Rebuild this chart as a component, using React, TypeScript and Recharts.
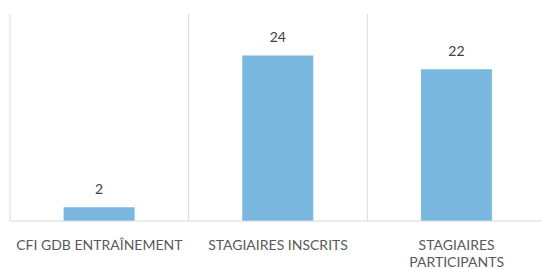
import React from 'react';
import { BarChart, Bar, XAxis, YAxis, CartesianGrid, LabelList } from 'recharts';

const categories = ['CFI GDB ENTRAÎNEMENT', 'STAGIAIRES INSCRITS', 'STAGIAIRES PARTICIPANTS'];
const tickLines = [['CFI GDB ENTRAÎNEMENT'], ['STAGIAIRES INSCRITS'], ['STAGIAIRES', 'PARTICIPANTS']];
const values = [2, 24, 22];

const data = categories.map((name, i) => ({ name, value: values[i] }));

const FONT = 'Lato, "Open Sans", sans-serif';

function CategoryTick({ x, y, index }: { x: number; y: number; index: number }) {
  const lines = tickLines[index] ?? [];
  return (
    <text x={x} y={y} textAnchor="middle" fill="#595959" fontSize={14} fontFamily={FONT}>
      {lines.map((l, i) => (
        <tspan key={i} x={x} dy={i === 0 ? 29 : 17}>{l}</tspan>
      ))}
    </text>
  );
}

export default function App() {
  return (
    <div style={{ position: 'absolute', left: 0, top: 0, width: 542, height: 269, overflow: 'hidden', background: '#fff' }}>
      <BarChart width={546} height={269} data={data} margin={{ top: 14, right: 0, left: 10, bottom: 8 }} barCategoryGap="30%">
        <CartesianGrid
          horizontal={false}
          stroke="#d9d9d9"
          verticalCoordinatesGenerator={({ offset }: any) =>
            Array.from({ length: categories.length + 1 }, (_, i) => offset.left + (i * offset.width) / categories.length)
          }
        />
        <XAxis
          dataKey="name"
          height={40}
          tickSize={0}
          tickMargin={0}
          axisLine={{ stroke: '#d9d9d9' }}
          tickLine={false}
          interval={0}
          tick={(p: any) => <CategoryTick {...p} />}
        />
        <YAxis hide domain={[0, 30]} />
        <Bar dataKey="value" fill="#7ab8e0" isAnimationActive={false}>
          <LabelList dataKey="value" position="top" offset={13} fill="#404040" fontSize={14} fontFamily={FONT} />
        </Bar>
      </BarChart>
    </div>
  );
}
